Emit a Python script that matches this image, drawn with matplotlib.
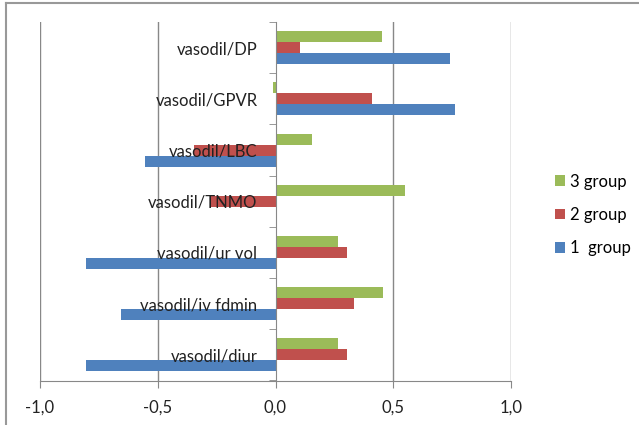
import numpy as np
import matplotlib
matplotlib.use("Agg")
import matplotlib.pyplot as plt
from matplotlib.lines import Line2D

CATEGORIES = ["vasodil/diur", "vasodil/iv fdmin", "vasodil/ur vol", "vasodil/TNMO",
              "vasodil/LBC", "vasodil/GPVR", "vasodil/DP"]
GROUP1 = [-0.804, -0.654, -0.804, 0.0, -0.553, 0.764, 0.743]
GROUP2 = [0.303, 0.335, 0.303, -0.276, -0.344, 0.41, 0.105]
GROUP3 = [0.265, 0.456, 0.265, 0.549, 0.157, -0.01, 0.452]
SERIES_NAMES = ["1  group", "2 group", "3 group"]
COLORS = ["#4F81BD", "#C0504D", "#9BBB59"]
XTICKS = [-1.0, -0.5, 0.0, 0.5, 1.0]
XTICK_LABELS = ["-1,0", "-0,5", "0,0", "0,5", "1,0"]

plt.rcParams["font.family"] = ["Lato", "DejaVu Sans"]

W, H = 639, 425
fig = plt.figure(figsize=(W / 100, H / 100), dpi=100)
ax = fig.add_axes([40 / W, 1 - 380.5 / H, (511 - 40) / W, (380.5 - 22) / H])

y = np.arange(len(CATEGORIES))
bh = 0.215
for i, (vals, c, name) in enumerate(zip([GROUP1, GROUP2, GROUP3], COLORS, SERIES_NAMES)):
    ax.barh(y + (i - 1) * bh, vals, height=bh, color=c, label=name, zorder=2)

for g in [-1.0, -0.5, 0.5, 1.0]:
    ax.axvline(g, color="#888888", lw=1.0, zorder=0)

ax.set_xlim(-1.0, 1.0)
ax.set_ylim(-0.5, len(CATEGORIES) - 0.5)

for s in ["top", "right"]:
    ax.spines[s].set_visible(False)
ax.spines["left"].set_position(("data", 0))
ax.spines["left"].set_color("#888888")
ax.spines["bottom"].set_color("#888888")
ax.spines["left"].set_zorder(3)

ax.set_xticks(XTICKS)
ax.set_xticklabels(XTICK_LABELS, fontsize=12, color="#222222")
ax.tick_params(axis="x", length=5, color="#888888", pad=9)

ax.set_yticks(y)
ax.set_yticklabels(CATEGORIES, fontsize=12, color="#222222")
ax.set_yticks(np.arange(len(CATEGORIES) + 1) - 0.5, minor=True)
ax.tick_params(axis="y", which="major", length=0, pad=13)
ax.tick_params(axis="y", which="minor", length=5, color="#888888")
for lab in ax.get_yticklabels():
    lab.set_zorder(5)
ax.yaxis.set_zorder(5)

handles, labels = ax.get_legend_handles_labels()
fig.legend(handles[::-1], labels[::-1], loc="center left",
           bbox_to_anchor=(540 / W, 1 - 215 / H), frameon=False, fontsize=12,
           handlelength=0.6, handleheight=0.6, handletextpad=0.3, labelspacing=1.05)

# outer chart frame (only top and left edges visible)
fig.add_artist(Line2D([5.5 / W, 5.5 / W], [0, 1 - 2.5 / H], color="#999999", lw=1.5,
                      transform=fig.transFigure))
fig.add_artist(Line2D([5.5 / W, 1], [1 - 2.5 / H, 1 - 2.5 / H], color="#999999", lw=1.5,
                      transform=fig.transFigure))

fig.savefig("out.png", dpi=100)
